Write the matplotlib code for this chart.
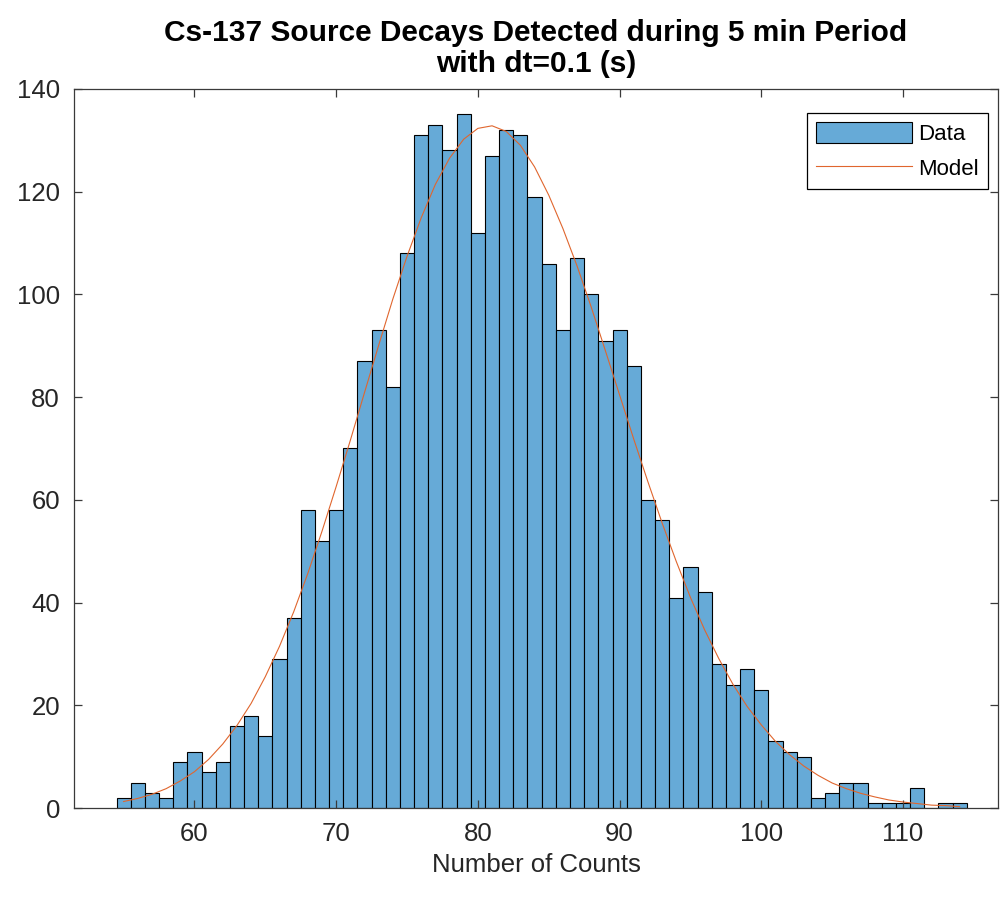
import numpy as np
import matplotlib
matplotlib.use('Agg')
import matplotlib.pyplot as plt

plt.rcParams['font.family'] = ['Liberation Sans', 'DejaVu Sans']

# histogram of counts per 0.1 s interval (bin centres and heights)
counts_x = list(range(55, 115))
counts = [2, 5, 3, 2, 9, 11, 7, 9, 16, 18,
          14, 29, 37, 58, 52, 58, 70, 87, 93, 82,
          108, 131, 133, 128, 135, 112, 127, 132, 131, 119,
          106, 93, 107, 100, 91, 93, 86, 60, 56, 41,
          47, 42, 28, 24, 27, 23, 13, 11, 10, 2,
          3, 5, 5, 1, 1, 1, 4, 0, 1, 1]

# model curve
model_x = list(range(55, 115))
model_y = [1.3, 1.9, 2.7, 3.8, 5.3, 7.1, 9.5, 12.5, 16.1, 20.4,
           25.6, 31.5, 38.2, 45.7, 53.9, 62.6, 71.6, 80.9, 90.1, 99.1,
           107.4, 114.9, 121.4, 126.5, 130.2, 132.3, 132.8, 131.7, 129.0, 124.8,
           119.3, 112.8, 105.5, 97.5, 89.0, 80.4, 71.8, 63.5, 55.5, 48.0,
           41.0, 34.7, 29.1, 24.1, 19.8, 16.2, 13.0, 10.4, 8.2, 6.4,
           4.9, 3.8, 2.9, 2.2, 1.6, 1.2, 0.9, 0.6, 0.5, 0.3]

xticks = [60, 70, 80, 90, 100, 110]
yticks = [0, 20, 40, 60, 80, 100, 120, 140]

fig = plt.figure(figsize=(10, 8.97), dpi=100)
ax = fig.add_axes([0.074, 0.099, 0.924, 0.802])

bars = ax.bar(counts_x, counts, width=1.0, color='#66aad7', edgecolor='black',
              linewidth=0.8, label='Data')
line, = ax.plot(model_x, model_y, color='#e0662e', linewidth=0.8, label='Model')

ax.set_xlim(51.5, 116.7)
ax.set_ylim(0, 140)
ax.set_xticks(xticks)
ax.set_yticks(yticks)

for s in ax.spines.values():
    s.set_color('#3a3a3a')
    s.set_linewidth(0.9)
ax.tick_params(direction='in', top=True, right=True, length=5.5, width=0.9,
               color='#3a3a3a', labelsize=18.5, labelcolor='#262626', pad=10)

ax.set_xlabel('Number of Counts', fontsize=18.5, color='#262626', labelpad=5)
ax.set_title('Cs-137 Source Decays Detected during 5 min Period\nwith dt=0.1 (s)',
             fontsize=21.5, fontweight='bold', linespacing=1.15, pad=12)

leg = ax.legend([bars, line], ['Data', 'Model'], loc='upper right',
                bbox_to_anchor=(0.989, 0.966), borderaxespad=0,
                fontsize=16, frameon=True, fancybox=False,
                edgecolor='black', framealpha=1, handlelength=4.3,
                handleheight=1.1, handletextpad=0.3, borderpad=0.4,
                labelspacing=0.5)
leg.get_frame().set_linewidth(0.9)

fig.savefig('out.png', dpi=100)
